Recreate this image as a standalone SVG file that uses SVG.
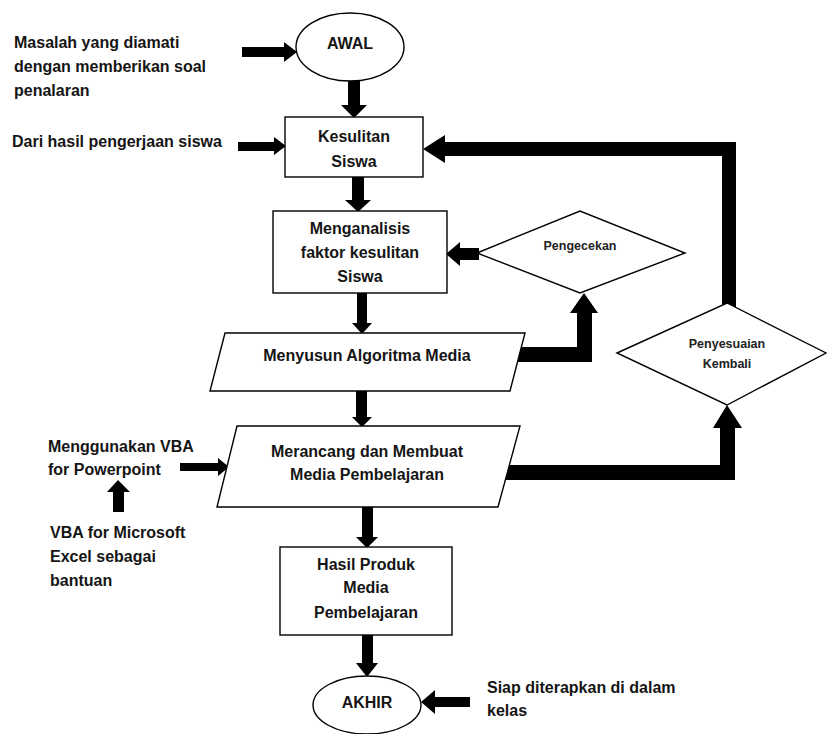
<svg xmlns="http://www.w3.org/2000/svg" width="827" height="734" viewBox="0 0 827 734">
<style>
  .bg{fill:#fff}
  .shape{fill:#fff;stroke:#000;stroke-width:1.4}
  .arrow{fill:#000;stroke:none}
  text{font-family:"Liberation Sans",Arial,sans-serif;font-weight:bold;fill:#151515}
  .t{font-size:16px}
  .c{text-anchor:middle}
  .s{font-size:12.5px;fill:#222}
</style>
<rect class="bg" x="0" y="0" width="827" height="734"/>

<g id="connectors">
  <polygon class="arrow" points="242,47 284,47 284,42 297,52 284,62 284,57 242,57"/>
  <polygon class="arrow" points="348,80 360,80 360,105 367,105 354,118 341,105 348,105"/>
  <polygon class="arrow" points="238,142 274,142 274,137 286,146 274,155 274,151 238,151"/>
  <polygon class="arrow" points="352,176 364,176 364,200 371,200 358,212 345,200 352,200"/>
  <polygon class="arrow" points="357,292 367,292 367,323 372,323 362,334 352,323 357,323"/>
  <polygon class="arrow" points="356,390 367,390 367,417 372,417 362,427 352,417 356,417"/>
  <polygon class="arrow" points="362,506 373,506 373,537 378,537 367,548 356,537 362,537"/>
  <polygon class="arrow" points="362,634 373,634 373,663 378,663 367,677 356,663 362,663"/>
  <polygon class="arrow" points="470,697 435,697 435,690 421,702 435,714 435,707 470,707"/>
  <polygon class="arrow" points="180,463 218,463 218,458 229,467 218,476 218,471 180,471"/>
  <polygon class="arrow" points="113,512 113,492 107,492 118,480 130,492 124,492 124,512"/>
  <polygon class="arrow" points="479,248 460,248 460,242 446,254 460,266 460,260 479,260"/>
  <polygon class="arrow" points="515,347 577,347 577,313 570,313 584,293 598,313 592,313 592,362 515,362"/>
  <polygon class="arrow" points="505,465 720,465 720,428 713,428 727,405 742,428 735,428 735,480 505,480"/>
  <polygon class="arrow" points="722,308 722,156 445,156 445,163 423,149 445,135 445,142 736,142 736,308"/>
</g>

<g id="awal">
  <ellipse class="shape" cx="350" cy="47" rx="54" ry="34"/>
  <text class="t c" x="350" y="49">AWAL</text>
</g>
<g id="kesulitan">
  <rect class="shape" x="285" y="117" width="138" height="60"/>
  <text class="t c" x="354" y="142">Kesulitan</text>
  <text class="t c" x="354" y="167">Siswa</text>
</g>
<g id="menganalisis">
  <rect class="shape" x="273" y="211" width="174" height="82"/>
  <text class="t c" x="360" y="234">Menganalisis</text>
  <text class="t c" x="360" y="258">faktor kesulitan</text>
  <text class="t c" x="360" y="282">Siswa</text>
</g>
<g id="pengecekan">
  <polygon class="shape" points="477,253 580,211 685,253 580,293"/>
  <text class="s c" x="580" y="250">Pengecekan</text>
</g>
<g id="menyusun">
  <polygon class="shape" points="225,333 525,333 510,391 210,391"/>
  <text class="t c" x="367" y="361">Menyusun Algoritma Media</text>
</g>
<g id="merancang">
  <polygon class="shape" points="237,426 520,426 498,507 217,507"/>
  <text class="t c" x="367" y="457">Merancang dan Membuat</text>
  <text class="t c" x="367" y="480">Media Pembelajaran</text>
</g>
<g id="penyesuaian">
  <polygon class="shape" points="617,353 727,303 826,353 727,405"/>
  <text class="s c" x="727" y="348">Penyesuaian</text>
  <text class="s c" x="727" y="368">Kembali</text>
</g>
<g id="hasil">
  <rect class="shape" x="280" y="547" width="172" height="88"/>
  <text class="t c" x="366" y="570">Hasil Produk</text>
  <text class="t c" x="366" y="593">Media</text>
  <text class="t c" x="366" y="618">Pembelajaran</text>
</g>
<g id="akhir">
  <ellipse class="shape" cx="367" cy="705" rx="54" ry="29"/>
  <text class="t c" x="367" y="708">AKHIR</text>
</g>

<g id="label-masalah">
  <text class="t" x="14" y="48">Masalah yang diamati</text>
  <text class="t" x="14" y="72">dengan memberikan soal</text>
  <text class="t" x="14" y="96">penalaran</text>
</g>
<g id="label-dari">
  <text class="t" x="12" y="147">Dari hasil pengerjaan siswa</text>
</g>
<g id="label-menggunakan">
  <text class="t" x="48" y="452">Menggunakan VBA</text>
  <text class="t" x="48" y="475">for Powerpoint</text>
</g>
<g id="label-vba-excel">
  <text class="t" x="50" y="538">VBA for Microsoft</text>
  <text class="t" x="50" y="562">Excel sebagai</text>
  <text class="t" x="50" y="586">bantuan</text>
</g>
<g id="label-siap">
  <text class="t" x="487" y="693">Siap diterapkan di dalam</text>
  <text class="t" x="487" y="716">kelas</text>
</g>
</svg>
